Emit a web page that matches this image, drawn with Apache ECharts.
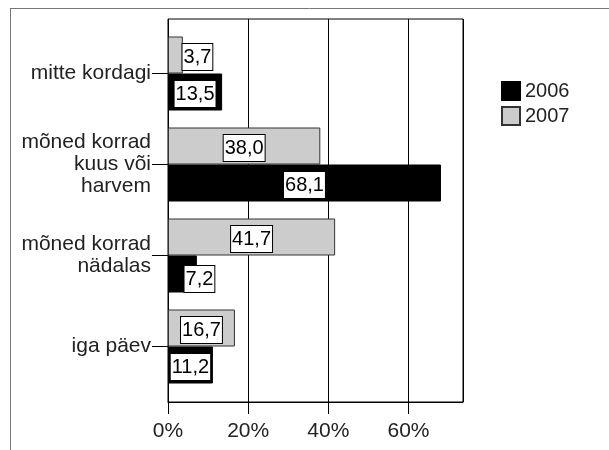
<!DOCTYPE html>
<html><head><meta charset="utf-8">
<script src="https://cdn.jsdelivr.net/npm/echarts@6/dist/echarts.min.js"></script>
<style>html,body{margin:0;padding:0;background:#fff}#c{width:609px;height:450px}</style>
</head><body><div id="c"></div>
<script>
const categories = ['mitte kordagi', 'mõned korrad\nkuus või\nharvem', 'mõned korrad\nnädalas', 'iga päev'];
const values2006 = [13.5, 68.1, 7.2, 11.2];
const values2007 = [3.7, 38.0, 41.7, 16.7];
const seriesNames = ['2006', '2007'];
const xTicks = [0, 20, 40, 60];

const FONT = 'Liberation Sans, Arial, sans-serif';
const labelStyle = {
  show: true, position: 'inside', color: '#000', fontFamily: FONT, fontSize: 20,
  backgroundColor: '#fff', borderColor: '#000', borderWidth: 1, padding: [4, 1, 2, 1],
  offset: [0, 2],
  formatter: p => p.value.toFixed(1).replace('.', ',')
};
function mkData(vals, offsets) {
  return vals.map((v, i) => offsets[i] ? { value: v, label: { offset: offsets[i] } } : v);
}
// small vertical nudges of the category label blocks (style only)
const catShift = [0, 10, 6, 0];
const catData = categories.map((c, i) => catShift[i] ? { value: c, textStyle: { padding: [catShift[i], 0, 0, 0] } } : c);

const chart = echarts.init(document.getElementById('c'), null, { renderer: 'canvas' });
const L = 168, R = 146;
chart.setOption({
  animation: false,
  textStyle: { fontFamily: FONT },
  grid: [
    { left: L, right: R, top: 19, bottom: 48, show: true, borderColor: '#000', borderWidth: 1, containLabel: false },
    { left: L, right: R, top: 28, bottom: 58, containLabel: false }
  ],
  xAxis: [
    { gridIndex: 0, type: 'value', min: 0, max: 73.6, interval: 20,
      axisLine: { show: true, lineStyle: { color: '#000' } },
      axisTick: { show: true, length: 12, lineStyle: { color: '#000' } },
      splitLine: { show: true, lineStyle: { color: '#000', width: 1 } },
      axisLabel: { formatter: v => xTicks.includes(v) ? v + '%' : '', color: '#222', fontSize: 21, fontFamily: FONT, margin: 19, showMaxLabel: false } },
    { gridIndex: 1, type: 'value', min: 0, max: 73.6, show: false }
  ],
  yAxis: [
    { gridIndex: 0, type: 'value', show: false },
    { gridIndex: 1, type: 'category', inverse: true, data: catData,
      axisLine: { show: false },
      axisTick: { show: true, alignWithLabel: true, length: 16, lineStyle: { color: '#000' } },
      axisLabel: { color: '#222', fontSize: 21, fontFamily: FONT, margin: 17, lineHeight: 22, align: 'right' } }
  ],
  legend: {
    orient: 'vertical', left: 496, top: 76, itemWidth: 18, itemHeight: 18, itemGap: 5,
    icon: 'rect', data: seriesNames,
    textStyle: { color: '#222', fontSize: 20, fontFamily: FONT }
  },
  series: [
    { name: '2007', type: 'bar', xAxisIndex: 1, yAxisIndex: 1, barWidth: 37, barGap: '0%',
      data: mkData(values2007, [[22, 2], null, [0, 2], [0, 2]]),
      itemStyle: { color: '#cccccc', borderColor: '#333', borderWidth: 1 }, label: labelStyle },
    { name: '2006', type: 'bar', xAxisIndex: 1, yAxisIndex: 1, barWidth: 37, barGap: '0%',
      data: mkData(values2006, [null, null, [17, 5], null]),
      itemStyle: { color: '#000', borderColor: '#000', borderWidth: 1 }, label: labelStyle }
  ],
  graphic: [
    { type: 'line', shape: { x1: 10.5, y1: 8, x2: 10.5, y2: 450 }, style: { stroke: '#777', lineWidth: 1 }, silent: true },
    { type: 'line', shape: { x1: 10, y1: 8.5, x2: 609, y2: 8.5 }, style: { stroke: '#777', lineWidth: 1 }, silent: true }
  ]
});
</script></body></html>
